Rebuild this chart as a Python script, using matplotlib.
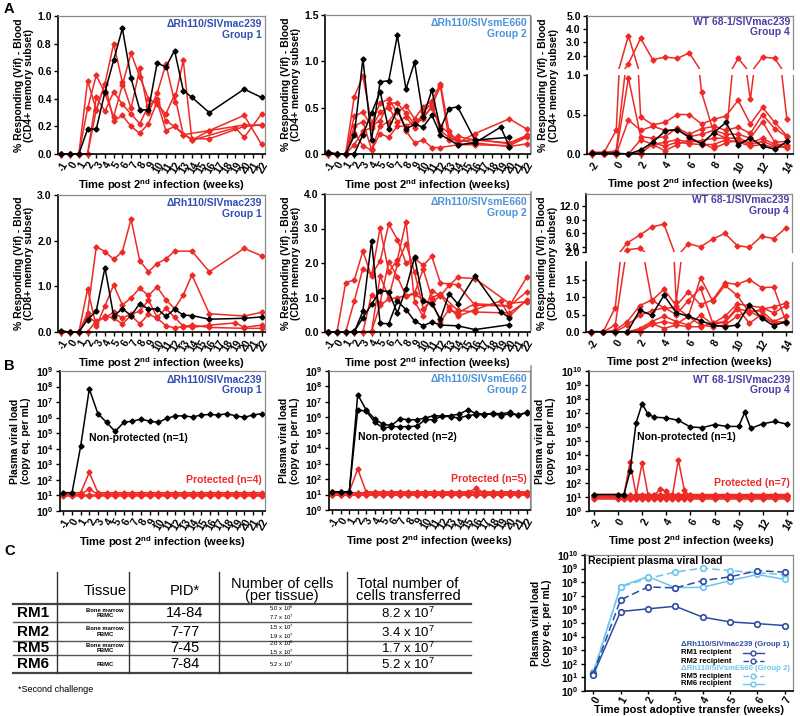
import numpy as np
import matplotlib.pyplot as plt
from matplotlib.ticker import NullLocator

plt.rcParams['font.family'] = ['Liberation Sans', 'DejaVu Sans']
plt.rcParams['font.weight'] = 'bold'
plt.rcParams['axes.labelweight'] = 'bold'

N = None
RED = '#ee2a26'
BLK = '#000000'
C_G1 = '#2f4fb3'
C_G2 = '#4a95da'
C_G4 = '#4b3fa6'
C_DARK = '#2c4ba3'
C_LIGHT = '#6cc5f0'

# ---------------- data ----------------
wk12 = [-1, 0, 1, 2, 3, 4, 5, 6, 7, 8, 9, 10, 11, 12, 13, 14, 16, 19, 20, 22]
wk4 = [-2, -1, 0, 1, 2, 3, 4, 5, 6, 7, 8, 9, 10, 11, 12, 13, 14]

# A: CD4+ memory, group 1
cd4_g1_np = [[0, 0, 0, .18, .18, .45, .68, .91, .55, .32, .32, .66, .63, .75, .46, .41, .30, N, .47, .41]]
cd4_g1_p = [
    [0, 0, 0, .53, .32, .51, .80, .52, .33, .62, .30, .44, .65, .38, .68, .10, .17, N, .28, .07],
    [0, 0, 0, .33, .57, .44, .27, .50, .73, .56, .40, .36, .29, .43, .14, N, .17, N, .21, .21],
    [0, 0, 0, 0, .41, .31, .45, .36, .29, .22, .35, .40, .24, .20, N, .10, N, .19, .12, .29],
    [0, 0, 0, 0, .32, .51, .24, .28, .20, .15, .22, .38, .17, .20, .14, .11, .11, N, .20, .21],
]
# A: CD4+ memory, group 2
cd4_g2_np = [
    [.02, 0, 0, .20, 1.03, .15, .78, .79, 1.28, .70, .99, .40, .69, .27, .49, .51, .15, N, .18, N],
    [.01, 0, 0, 0, .21, .44, .67, .27, .48, .27, .32, .29, .42, .21, N, .10, .12, .29, .08, N],
]
cd4_g2_p = [
    [0, 0, 0, .62, .84, .33, .55, .59, .45, .52, .38, .51, .57, .76, .25, .12, .22, N, .38, .27],
    [0, 0, 0, .41, .45, .30, .36, .55, .55, .44, .32, .38, .52, .73, .15, .19, .15, N, .12, .20],
    [0, 0, 0, .30, .35, .05, .30, .35, .48, .25, .12, .15, .07, .07, N, .10, .10, N, .09, .18],
    [0, 0, 0, .23, .09, .04, .22, .18, .30, .30, .35, .40, .50, .30, N, .15, .12, N, .08, .11],
    [0, 0, 0, .10, .25, .28, .45, .50, .35, .40, .28, .45, .55, .25, .18, .13, .16, N, .11, .19],
]
# A: CD4+ memory, group 4
cd4_g4_np = [[.01, .01, .01, 0, .05, .15, .29, .31, .21, .13, .27, .40, .12, .20, .10, .06, .16]]
cd4_g4_p = [
    [.02, .02, .04, 1.4, 3.3, 1.7, 1.9, 1.8, 2.2, .78, .27, .20, 1.8, .69, 1.9, 1.8, .44],
    [.02, .02, .30, 3.5, .47, .37, .40, .50, .50, .38, .44, .48, .68, .38, .59, .40, .23],
    [.01, .01, .02, .96, .22, .20, .22, .33, .25, .32, .35, .30, .34, .26, .50, .32, .22],
    [0, 0, 0, .43, .30, .35, .30, .31, .22, .25, .30, .25, .25, .20, .41, .15, .16],
    [0, 0, 0, 0, .18, .12, .15, .18, .15, .17, .20, .20, .20, .14, .20, .12, .12],
    [0, 0, 0, 0, .02, .12, .04, .12, .18, .14, .07, .14, .17, .12, .16, .10, .08],
    [0, 0, 0, 0, 0, .14, .10, .15, .13, .12, .12, .18, .15, .10, .12, .08, .10],
]
# A: CD8+ memory, group 1
cd8_g1_np = [[.02, 0, 0, .27, .46, 1.41, .35, .51, .36, .62, .50, .51, .34, .50, .37, .36, .28, N, .30, .33]]
cd8_g1_p = [
    [.02, 0, 0, .42, 1.87, 1.76, 1.59, 1.76, 2.47, 1.56, 1.32, 1.50, 1.60, 1.77, N, 1.77, 1.32, N, 1.83, 1.67],
    [0, 0, 0, .94, .13, .57, 1.03, .59, .75, .96, .80, .99, .71, .51, .81, 1.25, .40, N, .35, .43],
    [0, 0, 0, 0, .25, .31, .43, .30, .40, .45, .70, .32, .52, .32, .13, .10, .15, .20, .10, .15],
    [0, 0, 0, .35, .20, .35, .30, .18, .36, .18, .39, .30, .14, .09, .12, .15, .10, N, .08, .08],
]
# A: CD8+ memory, group 2
cd8_g2_np = [
    [0, 0, 0, 0, .60, 2.64, .25, .24, .90, .65, .32, .18, .29, .20, N, .18, .07, N, .21, N],
    [0, 0, 0, .02, .41, .80, 1.20, 1.17, .55, 1.25, 2.17, .90, .82, .37, 1.11, .82, 1.63, .58, .42, N],
]
cd8_g2_p = [
    [0, 0, 1.43, 1.51, 2.34, 1.62, 3.02, 1.73, 2.10, 3.20, .88, .45, 1.20, 1.05, 1.35, 1.58, 1.55, N, .83, .88],
    [0, 0, 0, .90, 1.84, 1.67, 2.05, 3.13, 2.68, 2.00, 2.14, 1.93, 2.19, 1.42, N, 1.37, .78, N, .75, 1.58],
    [0, 0, 0, 0, 0, 0, 1.62, 1.00, 1.97, 2.56, 1.73, .68, .90, .30, .65, .55, .82, N, .76, 1.16],
    [0, 0, 0, 0, 0, 1.08, .85, 2.04, 1.60, 1.04, 1.10, .93, .80, 1.08, .72, .45, .65, .90, .45, .93],
    [0, 0, 0, 0, 0, .02, .78, .95, 1.00, 1.05, 1.13, 1.82, 1.00, 1.10, N, .63, .58, N, .55, .90],
]
# A: CD8+ memory, group 4
cd8_g4_np = [[.01, .01, 0, 0, .62, .48, 1.05, .55, .45, .32, .20, .15, .20, .78, .40, .18, .30]]
cd8_g4_p = [
    [0, 0, .70, 4.0, 5.6, 7.4, 8.0, .85, 3.8, 3.1, 4.8, 6.0, 3.4, 3.0, 5.4, 4.9, 7.2],
    [0, 0, .20, 2.5, 2.8, .90, 1.22, .75, 1.15, .78, .92, 1.41, 1.36, 1.50, 1.27, 1.28, .30],
    [0, 0, .05, .30, .75, .92, .68, .70, .45, 1.55, .88, 1.33, 1.05, .55, .65, .72, .82],
    [0, 0, 0, .20, .48, .60, .70, .50, .90, 1.25, .25, .45, .80, .75, .70, .55, .75],
    [0, 0, 0, 0, .10, .30, .45, .30, .20, .48, .22, .28, .65, .60, .60, .30, .45],
    [0, 0, 0, 0, .05, .25, .10, .20, .15, .15, .25, .30, .70, .25, .50, .25, .25],
    [0, 0, 0, 0, 0, .22, .30, .22, .45, .20, .15, .20, .45, .60, .40, .28, .30],
]

# B: plasma viral load
wkB = list(range(-1, 23))
vl_g1_np = [[15, 15, 1.5e4, 7e7, 1.8e6, 5e5, 1.3e5, 5e5, 6e5, 8e5, 6e5, 5e5, 9e5, 1.3e6,
             1.3e6, 1.1e6, 1.5e6, 1.6e6, 1.5e6, 1.8e6, 1.3e6, 1.05e6, 1.5e6, 1.8e6]]
vl_g1_p = [
    [15, 15, 15, 300, 15, 15, 15, 15, 15, 15, 15, 15, 15, 15, 15, 15, 15, 15, 15, 15, 15, 15, 15, 15],
    [12, 12, 12, 25, 12, 12, 12, 12, 12, 12, 12, 12, 12, 12, 12, 12, 12, 12, 12, 12, 12, 12, 12, 12],
    [10, 10, 10, 10, 10, 10, 10, 10, 10, 10, 10, 10, 10, 10, 10, 10, 10, 10, 10, 10, 10, 10, 10, 10],
    [9, 9, 9, 9, 9, 9, 9, 9, 9, 9, 9, 9, 9, 9, 9, 9, 9, 9, 9, 9, 9, 9, 9, 9],
]
vl_g2_np = [
    [15, 15, 15, 3e7, 3e6, 8e5, 3.5e5, 3e5, 8e5, 7e5, 7e5, 9e5, 1.3e6, 1.2e6, 1.3e6, 1.6e6,
     3e6, 1.8e6, 1.6e6, 1.8e6, 1.7e6, 2.1e6, 1.4e6, 2.1e6],
    [15, 15, 15, 3e6, 2.5e6, 5e5, 2e5, 2.5e5, 2.5e5, 2.5e5, 2.7e5, 7e5, 7e5, 1.2e6, 1.1e6, 9e5,
     1.3e6, 1.5e6, 1.5e6, 1.7e6, 1.3e6, 1.7e6, 1.4e6, 2.0e6],
]
vl_g2_p = [
    [15, 15, 15, 450, 15, 15, 15, 15, 15, 15, 15, 15, 15, 15, 15, 15, 15, 15, 15, 15, 15, 15, 15, 15],
    [13, 13, 13, 13, 13, 13, 13, 13, 13, 13, 13, 13, 13, 13, 13, 13, 13, 25, 13, 13, 13, 13, 13, 13],
    [12, 12, 12, 12, 12, 12, 12, 12, 12, 12, 12, 12, 12, 12, 12, 12, 12, 12, 12, 12, 12, 12, 12, 12],
    [10, 10, 10, 10, 10, 10, 10, 10, 10, 10, 10, 10, 10, 10, 10, 10, 10, 10, 10, 10, 10, 10, 10, 10],
    [9, 9, 9, 9, 9, 9, 9, 9, 9, 9, 9, 9, 9, 9, 9, 9, 9, 9, 9, 9, 9, 9, 9, 9],
]
wkB4 = [-2, 0, 0.5, 1, 1.5, 2, 2.5, 3, 3.5, 4, 4.5, 5, 5.5, 6, 7, 8, 9, 10, 10.5, 11, 12, 13, 14]
vl_g4_np = [[15, 15, 15, 700, 2e6, 4.5e7, 8e6, 5e6, N, 4.5e6, N, 3e6, N, 1e6, 9e5, 1.5e6,
             1.1e6, 1.1e6, 1.1e7, 8e5, 1.7e6, 2.5e6, 1.6e6]]
vl_g4_p = [
    [15, 15, 15, 3000, 15, 15, 15, 15, 15, 15, 15, 15, 15, 15, 15, 15, 15, 15, N, 15, 15, 15, 15],
    [13, 13, 13, 13, 13, 2700, 13, 13, 13, 13, 13, 13, 13, 13, 13, 13, 13, 13, N, 13, 13, 13, 13],
    [12, 12, 12, 12, 12, 12, 12, 12, 40, 25, 12, 12, 12, 12, 12, 12, 12, 12, N, 12, 12, 12, 12],
    [11, 11, 11, 11, 11, 11, 11, 11, 11, 11, 11, 4500, 30, 11, 11, 11, 11, 11, N, 11, 11, 11, 11],
    [10, 10, 10, 10, 10, 10, 10, 10, 10, 10, 10, 10, 10, 10, 10, 10, 10, 10, N, 10, 10, 10, 10],
    [8, 8, 8, 8, 8, 8, 8, 8, 8, 8, 8, 8, 8, 8, 8, 8, 8, 8, N, 8, 8, 8, 8],
    [7, 7, 7, 7, 7, 7, 7, 7, 7, 7, 7, 7, 7, 7, 7, 7, 7, 7, N, 7, 7, 7, 7],
]

# C: recipient plasma viral load
wkC = [0, 1, 2, 3, 4, 5, 6, 7]
rm1 = [15, 7e5, 1.1e6, 1.7e6, 2.7e5, 1.2e5, 9e4, 6.5e4]
rm2 = [18, 5e6, 4.5e7, 3.8e7, 1.3e8, 2.5e8, 7e8, 5.5e8]
rm5 = [25, 4.5e7, 1.9e8, 5.5e8, 1.1e9, 7e8, 5e8, 3.5e8]
rm6 = [20, 4.8e7, 2.6e8, 4e7, 4.2e7, 1.3e8, 3.7e8, 1.6e8]

table_rows = ['RM1', 'RM2', 'RM5', 'RM6']
table_tissue = ['Bone marrow\nPBMC', 'Bone marrow\nPBMC', 'Bone marrow\nPBMC', 'PBMC']
table_pid = ['14-84', '7-77', '7-45', '7-84']
table_cells = [r'5.0 x 10$^{\mathdefault{6}}$' + '\n' + r'7.7 x 10$^{\mathdefault{7}}$',
               r'1.5 x 10$^{\mathdefault{7}}$' + '\n' + r'1.9 x 10$^{\mathdefault{7}}$',
               r'2.0 x 10$^{\mathdefault{6}}$' + '\n' + r'1.5 x 10$^{\mathdefault{7}}$',
               r'5.2 x 10$^{\mathdefault{7}}$']
table_total = [r'8.2 x 10$^{\mathdefault{7}}$', r'3.4 x 10$^{\mathdefault{7}}$',
               r'1.7 x 10$^{\mathdefault{7}}$', r'5.2 x 10$^{\mathdefault{7}}$']

# ---------------- figure ----------------
W, H = 800, 716
fig = plt.figure(figsize=(8, 7.16), dpi=100)

ov = fig.add_axes([0, 0, 1, 1], zorder=-5)
ov.set_xlim(0, W)
ov.set_ylim(H, 0)
ov.axis('off')


def px_axes(l, t, r, b):
    return fig.add_axes([l / W, 1 - b / H, (r - l) / W, (b - t) / H])


def frame(ax, top=True, bottom=True):
    for s in ('left', 'bottom'):
        ax.spines[s].set_color('black')
        ax.spines[s].set_linewidth(1.2)
    for s in ('top', 'right'):
        ax.spines[s].set_color('#8a8a8a')
        ax.spines[s].set_linewidth(0.9)
    ax.spines['top'].set_visible(top)
    ax.spines['bottom'].set_visible(bottom)
    ax.tick_params(direction='out', length=3, width=1, labelsize=7.5, pad=1.5)
    ax.yaxis.set_minor_locator(NullLocator())
    ax.xaxis.set_minor_locator(NullLocator())


def xaxis_weeks(ax, ticks, xlim):
    ax.set_xlim(*xlim)
    ax.set_xticks(ticks)
    ax.set_xticklabels([str(t) for t in ticks], rotation=60, ha='right',
                       rotation_mode='anchor', fontsize=7.5)
    ax.set_xlabel('Time post 2$^{\\mathdefault{nd}}$ infection (weeks)', fontsize=8, labelpad=1)


def clean(weeks, vals):
    x = [w for w, v in zip(weeks, vals) if v is not None]
    y = [v for v in vals if v is not None]
    return np.array(x, float), np.array(y, float)


def draw(ax, weeks, series, color):
    for vals in series:
        x, y = clean(weeks, vals)
        ax.plot(x, y, color=color, lw=1.1, marker='D', ms=2.6, clip_on=False)


def group_title(ax, name, grp, color):
    ax.text(0.985, 0.975, name + '\n' + grp, transform=ax.transAxes, ha='right', va='top',
            multialignment='right', color=color, fontsize=7.5, linespacing=1.05)


YL4 = '% Responding (Vif) - Blood\n(CD4+ memory subset)'
YL8 = '% Responding (Vif) - Blood\n(CD8+ memory subset)'


def normal_panel(box, weeks, np_series, p_series, ymax, yticks, ylabel, name, grp, color):
    ax = px_axes(*box)
    frame(ax)
    draw(ax, weeks, p_series, RED)
    draw(ax, weeks, np_series, BLK)
    ax.set_ylim(0, ymax)
    ax.set_yticks(yticks)
    ax.set_yticklabels(['%.1f' % v for v in yticks])
    xaxis_weeks(ax, list(range(-1, 23)), (-1.4, 22.4))
    ax.set_ylabel(ylabel, fontsize=7.5, linespacing=1.1, labelpad=2)
    group_title(ax, name, grp, color)
    return ax


def broken_panel(box_hi, box_lo, weeks, np_series, p_series, split, hi_lim, hi_ticks,
                 lo_ticks, ylabel, name, grp, color, label_y):
    hi = px_axes(*box_hi)
    lo = px_axes(*box_lo)
    frame(hi, bottom=False)
    frame(lo, top=False)
    for series, col in ((p_series, RED), (np_series, BLK)):
        for vals in series:
            x, y = clean(weeks, vals)
            for ax in (hi, lo):
                ax.plot(x, y, color=col, lw=1.1, clip_on=True)
            m = y <= split
            lo.plot(x[m], y[m], ls='none', color=col, marker='D', ms=2.6, clip_on=False)
            hi.plot(x[~m], y[~m], ls='none', color=col, marker='D', ms=2.6, clip_on=False)
    lo.set_ylim(0, split)
    hi.set_ylim(*hi_lim)
    lo.set_yticks(lo_ticks)
    lo.set_yticklabels(['%.1f' % v for v in lo_ticks])
    hi.set_yticks(hi_ticks)
    hi.set_yticklabels(['%.1f' % v for v in hi_ticks])
    hi.set_xlim(-2.4, 14.5)
    hi.set_xticks([])
    xaxis_weeks(lo, list(range(-2, 15, 2)), (-2.4, 14.5))
    lo.set_ylabel(ylabel, fontsize=7.5, linespacing=1.1)
    lo.yaxis.set_label_coords(-0.135, label_y)
    group_title(hi, name, grp, color)


# Row A, CD4+
normal_panel((58, 16, 265, 154), wk12, cd4_g1_np, cd4_g1_p, 1.0, [0, .2, .4, .6, .8, 1.0],
             YL4, '\u0394Rh110/SIVmac239', 'Group 1', C_G1)
normal_panel((325, 15, 530, 154), wk12, cd4_g2_np, cd4_g2_p, 1.5, [0, .5, 1.0, 1.5],
             YL4, '\u0394Rh110/SIVsmE660', 'Group 2', C_G2)
broken_panel((587, 15.7, 793, 69), (587, 75, 793, 154), wk4, cd4_g4_np, cd4_g4_p, 1.0,
             (1.0, 5.0), [2, 3, 4, 5], [0, .5, 1.0], YL4, 'WT 68-1/SIVmac239', 'Group 4',
             C_G4, 0.87)

# Row A, CD8+
normal_panel((58, 195, 265, 332), wk12, cd8_g1_np, cd8_g1_p, 3.0, [0, 1, 2, 3],
             YL8, '\u0394Rh110/SIVmac239', 'Group 1', C_G1)
normal_panel((325, 194, 530, 332), wk12, cd8_g2_np, cd8_g2_p, 4.0, [0, 1, 2, 3, 4],
             YL8, '\u0394Rh110/SIVsmE660', 'Group 2', C_G2)
broken_panel((586, 194, 792, 252), (586, 262, 792, 332), wk4, cd8_g4_np, cd8_g4_p, 2.0,
             (2.0, 14.5), [2, 3, 6, 9, 12], [0, .5, 1.0, 1.5], YL8, 'WT 68-1/SIVmac239',
             'Group 4', C_G4, 0.98)


# Row B
def log_ticks(ax, top):
    ax.set_yscale('log')
    ax.set_ylim(1, 10 ** top)
    ax.set_yticks([10.0 ** i for i in range(top + 1)])
    ax.set_yticklabels([r'$\mathdefault{10^{%d}}$' % i for i in range(top + 1)])
    ax.yaxis.set_minor_locator(NullLocator())


def vl_panel(box, weeks, np_series, p_series, top, xt, xlim, name, grp, color, np_txt, np_xy,
             p_txt):
    ax = px_axes(*box)
    frame(ax)
    draw(ax, weeks, p_series, RED)
    draw(ax, weeks, np_series, BLK)
    log_ticks(ax, top)
    xaxis_weeks(ax, xt, xlim)
    ax.set_ylabel('Plasma viral load\n(copy eq. per mL)', fontsize=7.5, linespacing=1.1)
    group_title(ax, name, grp, color)
    ax.text(np_xy[0], np_xy[1], np_txt, fontsize=7.5, ha='left', va='center')
    ax.text(0.985, 100, p_txt, color=RED, fontsize=7.5, ha='right', va='center',
            transform=ax.get_yaxis_transform())
    ax.tick_params(axis='y', labelsize=7.5)


vl_panel((60, 371, 265, 511), wkB, vl_g1_np, vl_g1_p, 9, list(range(-1, 23)), (-1.4, 22.4),
         '\u0394Rh110/SIVmac239', 'Group 1', C_G1, 'Non-protected (n=1)', (2.0, 5e4),
         'Protected (n=4)')
vl_panel((329, 371, 530, 510), wkB, vl_g2_np, vl_g2_p, 9, list(range(-1, 23)), (-1.4, 22.4),
         '\u0394Rh110/SIVsmE660', 'Group 2', C_G2, 'Non-protected (n=2)', (2.0, 5e4),
         'Protected (n=5)')
vl_panel((589, 371, 793, 511), wkB4, vl_g4_np, vl_g4_p, 10, list(range(-2, 15, 2)),
         (-2.4, 14.5), 'WT 68-1/SIVmac239', 'Group 4', C_G4, 'Non-protected (n=1)',
         (1.6, 1.8e5), 'Protected (n=7)')

# C: recipient viral load
cx = px_axes(585, 555, 793, 691)
frame(cx)
kw = dict(lw=1.1, marker='o', ms=4, mfc='white', mew=1.2, clip_on=False)
cx.plot(wkC, rm5, color=C_LIGHT, ls=(0, (5, 2.5)), **kw)
cx.plot(wkC, rm6, color=C_LIGHT, ls='-', **kw)
cx.plot(wkC, rm2, color=C_DARK, ls=(0, (5, 2.5)), **kw)
cx.plot(wkC, rm1, color=C_DARK, ls='-', **kw)
log_ticks(cx, 10)
cx.set_xlim(-0.3, 7.3)
cx.set_xticks(wkC)
cx.set_xticklabels([str(w) for w in wkC], rotation=60, ha='right', rotation_mode='anchor')
cx.tick_params(axis='x', length=2.5, pad=0.5)
cx.set_xlabel('Time post adoptive transfer (weeks)', fontsize=8, labelpad=0)
cx.set_ylabel('Plasma viral load\n(copy eq. per mL)', fontsize=7.5, linespacing=1.1)
cx.text(0.015, 0.955, 'Recipient plasma viral load', transform=cx.transAxes, fontsize=7.5,
        ha='left', va='center')

leg = [('\u0394Rh110/SIVmac239 (Group 1)', C_DARK, None, None, 0.34),
       ('RM1 recipient', 'black', C_DARK, '-', 0.28),
       ('RM2 recipient', 'black', C_DARK, (0, (4, 2)), 0.22),
       ('\u0394Rh110/SIVsmE660 (Group 2)', C_LIGHT, None, None, 0.165),
       ('RM5 recipient', 'black', C_LIGHT, (0, (4, 2)), 0.107),
       ('RM6 recipient', 'black', C_LIGHT, '-', 0.053)]
for txt, tc, lc, ls, yy in leg:
    cx.text(0.46, yy, txt, transform=cx.transAxes, color=tc, fontsize=5.6, ha='left',
            va='center')
    if lc is not None:
        cx.plot([0.76, 0.86], [yy, yy], transform=cx.transAxes, color=lc, ls=ls, lw=1,
                clip_on=False)
        cx.plot([0.81], [yy], transform=cx.transAxes, color=lc, marker='o', ms=3.5,
                mfc='white', mew=1, clip_on=False)

# ---------------- table ----------------
tx0, tx1 = 13, 471
for y, lw in ((604.3, 1.6), (622.3, 1.0), (640.7, 1.0), (655.3, 1.0), (673.3, 1.6)):
    ov.plot([tx0, tx1], [y, y], color='#555555' if lw < 1.5 else '#444444', lw=lw)
for x in (57.3, 129.3, 219.3, 347.3):
    ov.plot([x, x], [572.3, 673.3], color='#333333', lw=1.0)

hdr_y = 590
ov.text(105, hdr_y + 1, 'Tissue', ha='center', va='center', fontsize=10.5, fontweight='normal')
ov.text(185, hdr_y + 1, 'PID*', ha='center', va='center', fontsize=10.5, fontweight='normal')
ov.text(282, hdr_y, 'Number of cells\n(per tissue)', ha='center', va='center', fontsize=10.5,
        fontweight='normal', linespacing=0.85)
ov.text(408, hdr_y, 'Total number of\ncells transferred', ha='center', va='center',
        fontsize=10.5, fontweight='normal', linespacing=0.85)

row_y = [613.3, 631.5, 648.0, 664.3]
for i, y in enumerate(row_y):
    ov.text(33, y, table_rows[i], ha='center', va='center', fontsize=11)
    ov.text(105, y, table_tissue[i], ha='center', va='center', fontsize=4.2, linespacing=1.0)
    ov.text(185, y, table_pid[i], ha='center', va='center', fontsize=10.5, fontweight='normal')
    ov.text(282, y, table_cells[i], ha='center', va='center', fontsize=4.2, fontweight='normal',
            linespacing=0.95)
    ov.text(408, y + 0.5, table_total[i], ha='center', va='center', fontsize=9.5,
            fontweight='normal')
ov.text(18, 690, '*Second challenge', ha='left', va='center', fontsize=6.5, fontweight='normal')

# panel letters and separator
ov.text(4, 9, 'A', fontsize=10.5, ha='left', va='center')
ov.text(4, 366, 'B', fontsize=10.5, ha='left', va='center')
ov.text(4, 551, 'C', fontsize=10.5, ha='left', va='center')
for y0, y1 in ((17, 153), (192, 330), (366, 510)):
    ov.plot([531, 531], [y0, y1], color='#9a9a9a', lw=1.2)

fig.savefig('out.png', dpi=100)
